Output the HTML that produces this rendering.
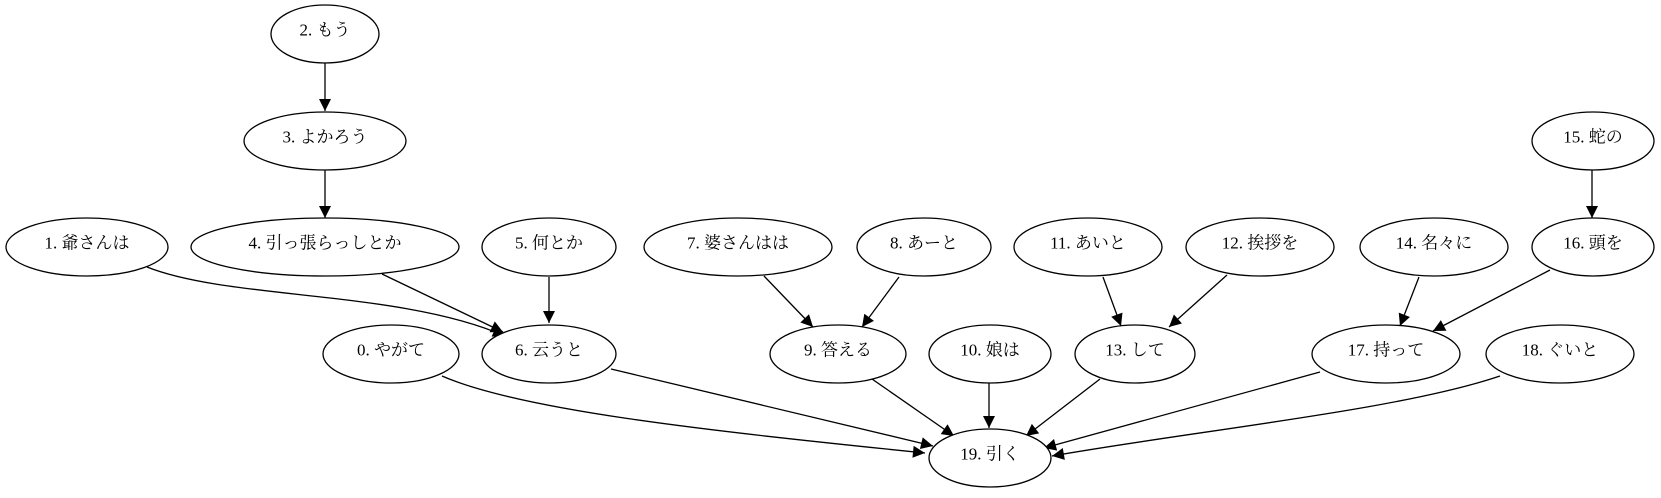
<!DOCTYPE html>
<html><head><meta charset="utf-8"><style>
html,body{margin:0;padding:0;background:#fff;}
svg text{font-family:"Liberation Serif","Noto Serif CJK SC","Noto Sans CJK JP",serif;font-size:17px;text-anchor:middle;dominant-baseline:central;fill:#000;}
</style></head><body>
<svg width="1661" height="493" viewBox="0 0 1661 493" xmlns="http://www.w3.org/2000/svg">
<defs><marker id="a" viewBox="0 0 10 10" refX="10" refY="5" markerWidth="13" markerHeight="12" markerUnits="userSpaceOnUse" orient="auto"><path d="M0,0 L10,5 L0,10 z" fill="#000"/></marker></defs>
<g fill="none" stroke="#000" stroke-width="1.3" marker-end="url(#a)">
<path d="M325,63 L325,111"/>
<path d="M325,170 L325,218"/>
<path d="M147,267 C230,300 400,290 505,336"/>
<path d="M382,274 L503,332"/>
<path d="M549,277 L549,323"/>
<path d="M764,276 L813,327"/>
<path d="M899,277 L862,327"/>
<path d="M442,376 C520,410 700,430 925,453"/>
<path d="M611,369 L933,446"/>
<path d="M872,379 L954,436"/>
<path d="M989,383 L989,428"/>
<path d="M1100,379 L1026,436"/>
<path d="M1103,277 L1121,326"/>
<path d="M1227,275 L1169,327"/>
<path d="M1419,277 L1400,326"/>
<path d="M1550,270 L1433,331"/>
<path d="M1592,170 L1592,218"/>
<path d="M1320,372 L1044,448"/>
<path d="M1500,376 C1400,410 1200,430 1052,456"/>
</g>
<g fill="#fff" stroke="#000" stroke-width="1.3">
<ellipse cx="325" cy="34" rx="54" ry="29"/>
<ellipse cx="325" cy="141" rx="81" ry="29"/>
<ellipse cx="87" cy="247" rx="81" ry="29"/>
<ellipse cx="325" cy="247" rx="134" ry="29"/>
<ellipse cx="549" cy="247" rx="67" ry="29"/>
<ellipse cx="738" cy="247" rx="94" ry="29"/>
<ellipse cx="924" cy="247" rx="67" ry="29"/>
<ellipse cx="1088" cy="247" rx="74" ry="29"/>
<ellipse cx="1260" cy="247" rx="74" ry="29"/>
<ellipse cx="1434" cy="247" rx="74" ry="29"/>
<ellipse cx="1593" cy="247" rx="61" ry="29"/>
<ellipse cx="1593" cy="141" rx="61" ry="29"/>
<ellipse cx="391" cy="354" rx="68" ry="29"/>
<ellipse cx="549" cy="354" rx="67" ry="29"/>
<ellipse cx="838" cy="354" rx="68" ry="29"/>
<ellipse cx="990" cy="354" rx="61" ry="29"/>
<ellipse cx="1135" cy="354" rx="60" ry="29"/>
<ellipse cx="1386" cy="354" rx="74" ry="29"/>
<ellipse cx="1560" cy="354" rx="74" ry="29"/>
<ellipse cx="990" cy="458" rx="61" ry="29"/>
</g>
<text x="325" y="30">2. もう</text>
<text x="325" y="137">3. よかろう</text>
<text x="87" y="243">1. 爺さんは</text>
<text x="325" y="243">4. 引っ張らっしとか</text>
<text x="549" y="243">5. 何とか</text>
<text x="738" y="243">7. 婆さんはは</text>
<text x="924" y="243">8. あーと</text>
<text x="1088" y="243">11. あいと</text>
<text x="1260" y="243">12. 挨拶を</text>
<text x="1434" y="243">14. 名々に</text>
<text x="1593" y="243">16. 頭を</text>
<text x="1593" y="137">15. 蛇の</text>
<text x="391" y="350">0. やがて</text>
<text x="549" y="350">6. 云うと</text>
<text x="838" y="350">9. 答える</text>
<text x="990" y="350">10. 娘は</text>
<text x="1135" y="350">13. して</text>
<text x="1386" y="350">17. 持って</text>
<text x="1560" y="350">18. ぐいと</text>
<text x="990" y="454">19. 引く</text>
</svg>
</body></html>
